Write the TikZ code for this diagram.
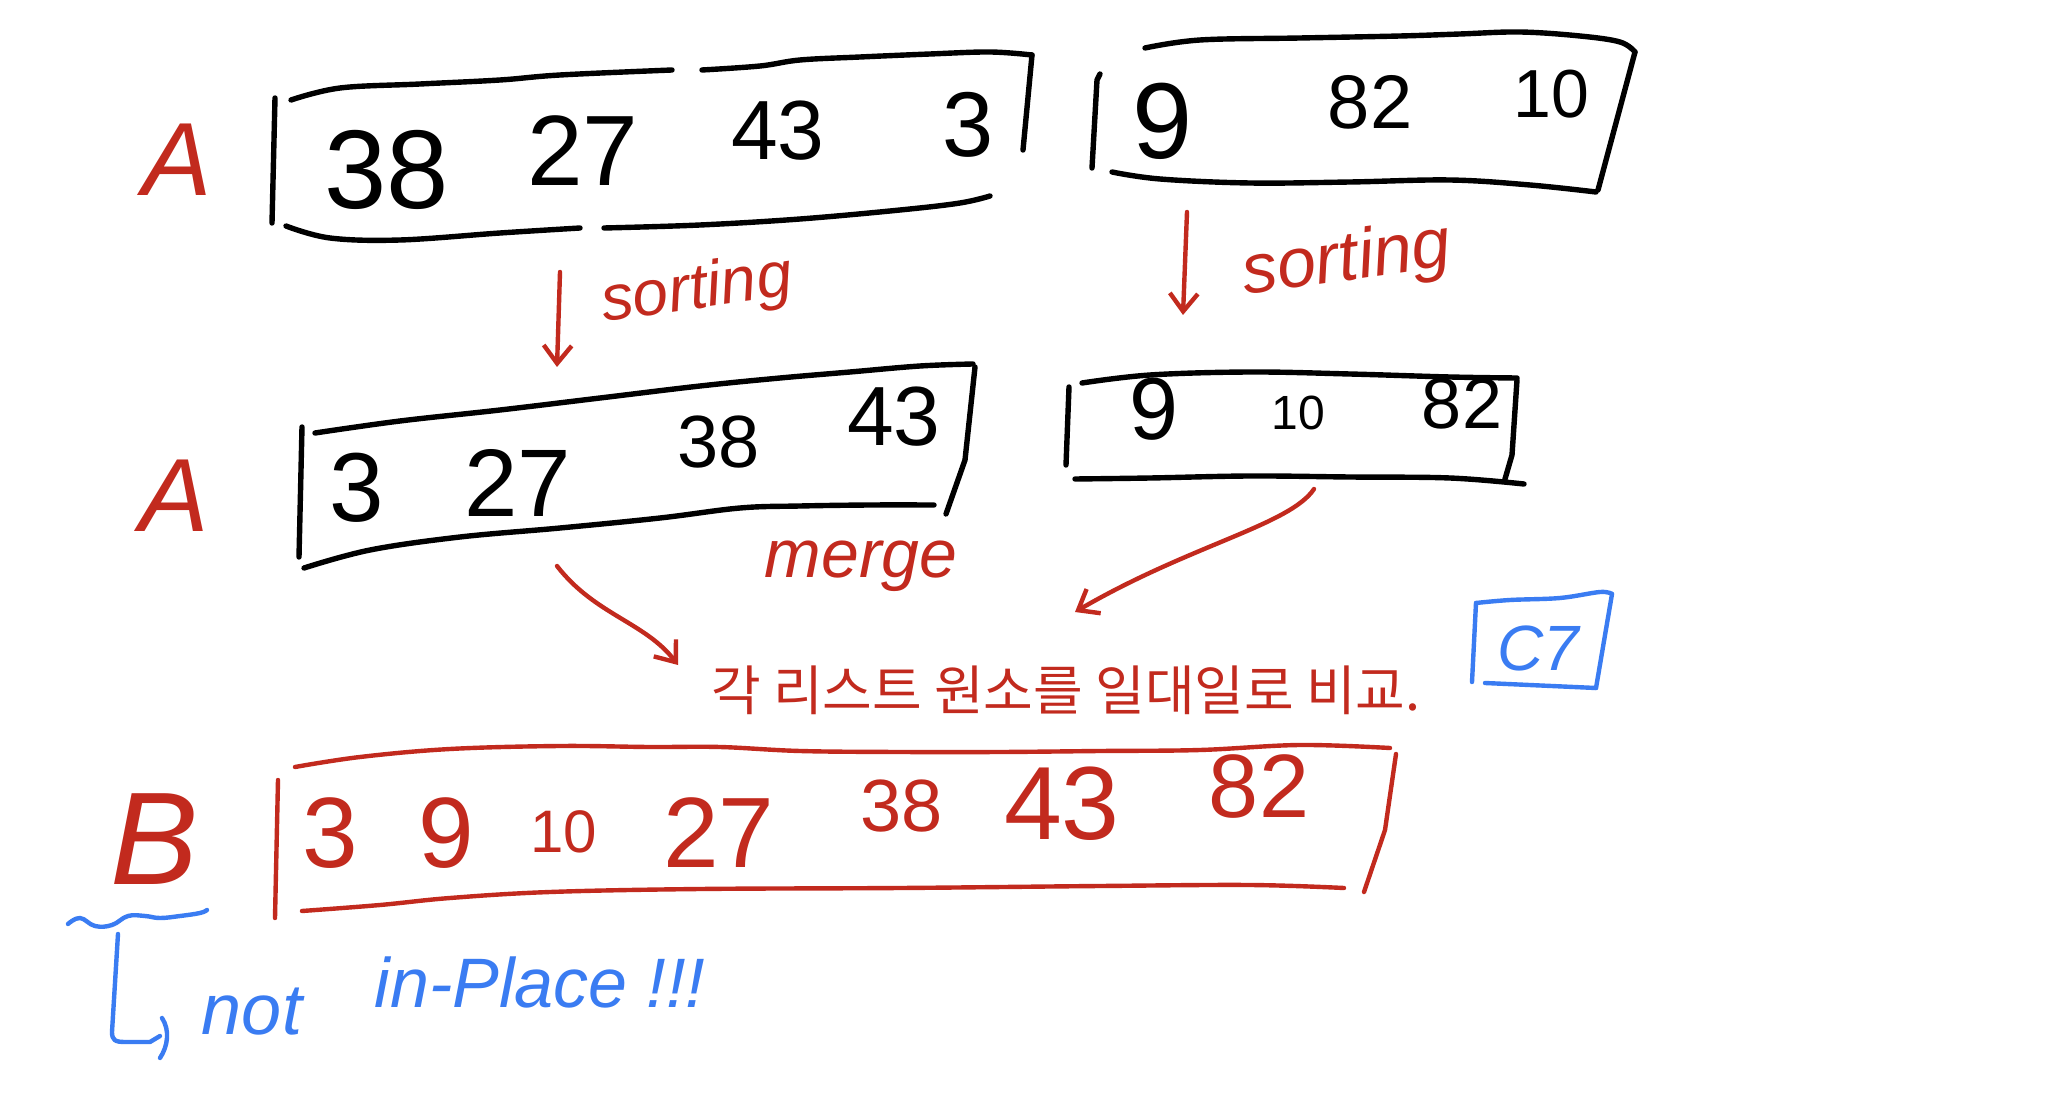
\documentclass[tikz,border=0pt]{standalone}
\usepackage{fontspec}
\setmainfont{Liberation Sans}
\newfontfamily\kr{Noto Sans CJK KR}
\usetikzlibrary{arrows.meta}
\definecolor{hred}{HTML}{C22A1E}
\definecolor{hblue}{HTML}{3A7CF2}
\begin{document}
\begin{tikzpicture}[x=0.5pt,y=-0.5pt,
  blk/.style={line width=2.7pt,line cap=round,line join=round,black},
  redl/.style={line width=2.2pt,line cap=round,line join=round,hred},
  bluel/.style={line width=2.2pt,line cap=round,line join=round,hblue},
  tip/.style={-{Straight Barb[length=9pt,width=14pt]}},
  num/.style={inner sep=0pt,font=\fontsize{#1}{#1}\selectfont},
  rnum/.style={num=#1,text=hred},
  rlab/.style={inner sep=0pt,text=hred,font=\fontsize{#1}{#1}\selectfont\itshape},
  blab/.style={inner sep=0pt,text=hblue,font=\fontsize{#1}{#1}\selectfont\itshape}]
\useasboundingbox (0,0) rectangle (2056,1117);
\fill[white] (0,0) rectangle (2056,1117);

% ---------- row 1 ----------
\node[rlab=52] (A1) at (177,160) {A};
% box 1
\draw[blk] (275,98) -- (272,223);
\draw[blk] plot[smooth,tension=0.6] coordinates {(291,100) (340,88) (420,84) (500,80) (560,75) (672,70)};
\draw[blk] plot[smooth,tension=0.6] coordinates {(702,70) (760,66) (800,60) (860,57) (930,54) (990,52) (1032,55)};
\draw[blk] (1032,55) -- (1023,150);
\draw[blk] plot[smooth,tension=0.6] coordinates {(286,226) (330,238) (400,240) (500,233) (580,228)};
\draw[blk] plot[smooth,tension=0.6] coordinates {(604,228) (700,225) (800,219) (900,210) (960,203) (990,196)};
\node[num=56] (n38a) at (387,170) {38};
\node[num=50] (n27a) at (583,151) {27};
\node[num=42] (n43a) at (778,131) {43};
\node[num=46] (n3a)  at (968,125) {3};
% box 2
\draw[blk] (1100,74) -- (1097,80) -- (1092,168);
\draw[blk] plot[smooth,tension=0.6] coordinates {(1145,48) (1200,40) (1300,38) (1400,36) (1460,34) (1520,32) (1580,36) (1620,42) (1635,52)};
\draw[blk] (1635,52) -- (1598,190);
\draw[blk] plot[smooth,tension=0.6] coordinates {(1112,172) (1160,179) (1250,183) (1350,182) (1450,180) (1530,185) (1596,192)};
\node[num=54] (n9a)  at (1163,121) {9};
\node[num=38] (n82a) at (1370,102) {82};
\node[num=34] (n10a) at (1551,94)  {10};

% sorting arrows
\coordinate (s1a) at (560,272);
\coordinate (s1b) at (557,367);
\coordinate (s2a) at (1187,212);
\coordinate (s2b) at (1183,315);
\draw[redl,tip] (s1a) -- (s1b);
\draw[redl,tip] (s2a) -- (s2b);
\node[rlab=32,rotate=8] (sort1) at (697,292) {sorting};
\node[rlab=35,rotate=8] (sort2) at (1347,262) {sorting};

% ---------- row 2 ----------
\node[rlab=52] (A2) at (174,496) {A};
% box 3
\draw[blk] (302,427) -- (299,557);
\draw[blk] plot[smooth,tension=0.6] coordinates {(315,433) (400,421) (500,410) (600,398) (700,386) (780,378) (850,372) (920,366) (973,364)};
\draw[blk] (975,367) -- (965,460) -- (946,514);
\draw[blk] plot[smooth,tension=0.6] coordinates {(304,568) (370,550) (460,537) (560,528) (660,518) (740,508) (800,506) (870,505) (934,505)};
\node[num=49] (n3b)  at (357,488) {3};
\node[num=48] (n27b) at (518,483) {27};
\node[num=37] (n38b) at (719,442) {38};
\node[num=42] (n43b) at (894,417) {43};
% box 4
\draw[blk] (1069,387) -- (1066,465);
\draw[blk] plot[smooth,tension=0.6] coordinates {(1082,383) (1150,375) (1250,372) (1350,374) (1450,377) (1517,378)};
\draw[blk] (1517,380) -- (1512,455) -- (1505,479);
\draw[blk] plot[smooth,tension=0.6] coordinates {(1075,479) (1150,478) (1250,476) (1350,477) (1450,478) (1524,484)};
\node[num=44] (n9b)  at (1154,409) {9};
\node[num=24] (n10b) at (1298,413) {10};
\node[num=36] (n82b) at (1462,404) {82};

\node[rlab=34] (merge) at (861,566) {merge};

% merge arrows
\coordinate (m1a) at (557,566);
\coordinate (m1b) at (678,665);
\coordinate (m2a) at (1314,489);
\coordinate (m2b) at (1075,612);
\draw[redl,tip] (m1a) .. controls (595,615) and (645,622) .. (m1b);
\draw[redl,tip] (m2a) .. controls (1290,525) and (1190,545) .. (m2b);

\node[inner sep=0pt,text=hred,font=\fontsize{27}{27}\selectfont\kr] (kor) at (1066,690) {각 리스트 원소를 일대일로 비교.};

% blue box
\draw[bluel] (1476,603) -- (1472,682);
\draw[bluel] plot[smooth,tension=0.6] coordinates {(1476,603) (1510,600) (1560,598) (1600,592) (1612,594)};
\draw[bluel] (1612,594) -- (1596,688);
\draw[bluel] (1485,683) -- (1596,688);
\node[text=hblue,inner sep=0pt,font=\fontsize{32}{32}\selectfont\itshape] (c7) at (1538,648) {C7};

% ---------- row 3 ----------
\node[rlab=66] (B) at (155,839) {B};
% box 5 (red)
\draw[redl] (278,780) -- (275,918);
\draw[redl] plot[smooth,tension=0.6] coordinates {(295,767) (360,757) (450,749) (560,746) (650,747) (720,747) (800,751) (900,752) (1000,752) (1100,751) (1200,750) (1300,745) (1390,748)};
\draw[redl] (1396,754) -- (1385,830) -- (1364,892);
\draw[redl] plot[smooth,tension=0.6] coordinates {(302,911) (380,905) (450,898) (550,892) (700,889) (900,888) (1100,886) (1250,885) (1344,888)};
\node[rnum=50] (n3c)  at (330,833) {3};
\node[rnum=50] (n9c)  at (446,833) {9};
\node[rnum=30] (n10c) at (564,832) {10};
\node[rnum=50] (n27c) at (719,833) {27};
\node[rnum=37] (n38c) at (902,806) {38};
\node[rnum=52] (n43c) at (1062,804) {43};
\node[rnum=45] (n82c) at (1259,787) {82};

% blue annotation
\draw[bluel] plot[smooth,tension=0.7] coordinates {(68,924) (80,918) (95,926) (112,925) (128,916) (145,916) (160,918) (180,916) (200,913) (207,910)};
\coordinate (La) at (118,934);
\coordinate (Lb) at (160,1036);
\draw[bluel] (La) -- (112,1032) .. controls (112,1040) and (115,1042) .. (125,1042) -- (150,1042) -- (Lb);
\draw[bluel] (162,1018) .. controls (170,1030) and (168,1046) .. (160,1058);
\node[blab=36] (not) at (252,1012) {not};
\node[blab=35] (inpl) at (540,982) {in-Place !!!};
\end{tikzpicture}
\end{document}
